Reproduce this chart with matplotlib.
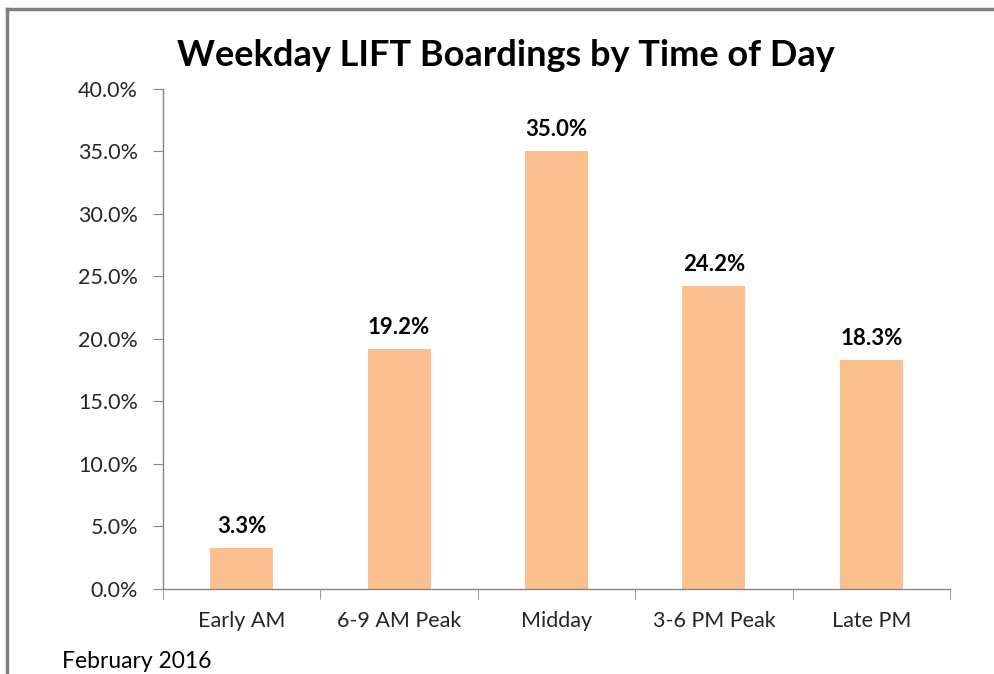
import matplotlib
matplotlib.use("Agg")
import matplotlib.pyplot as plt
from matplotlib.lines import Line2D
from matplotlib.ticker import FuncFormatter, MultipleLocator

categories = ["Early AM", "6-9 AM Peak", "Midday", "3-6 PM Peak", "Late PM"]
shares = [3.3, 19.2, 35.0, 24.2, 18.3]

plt.rcParams["font.family"] = ["Lato", "DejaVu Sans"]

fig = plt.figure(figsize=(9.95, 6.74), dpi=100)
ax = fig.add_axes([0.1638, 0.1261, 0.791, 0.742])

x = list(range(len(categories)))
ax.bar(x, shares, width=0.4, color="#FAC090")
for xi, v in zip(x, shares):
    ax.annotate(f"{v:.1f}%", (xi, v), xytext=(0, 8), textcoords="offset points",
                ha="center", va="bottom", fontsize=16, fontweight="bold", color="black")

ax.set_xlim(-0.5, len(categories) - 0.5)
ax.set_ylim(0, 40)
ax.yaxis.set_major_locator(MultipleLocator(5))
ax.yaxis.set_major_formatter(FuncFormatter(lambda v, _: f"{v:.1f}%"))
ax.set_xticks(x)
ax.set_xticklabels(categories)
ax.set_xticks([i - 0.5 for i in range(len(categories) + 1)], minor=True)
ax.tick_params(axis="x", which="major", length=0, pad=16, labelsize=15.5, labelcolor="#262626")
ax.tick_params(axis="x", which="minor", length=7, color="#868686", direction="out")
ax.tick_params(axis="y", length=7, color="#868686", labelsize=15.5, labelcolor="#262626", pad=11)

for s in ["top", "right"]:
    ax.spines[s].set_visible(False)
for s in ["left", "bottom"]:
    ax.spines[s].set_color("#868686")
    ax.spines[s].set_linewidth(1)

fig.text(0.508, 0.917, "Weekday LIFT Boardings by Time of Day", ha="center", va="center",
         fontsize=26, fontweight="bold", color="black")
fig.text(0.062, 0.018, "February 2016", ha="left", va="center", fontsize=16.5, color="black")

# outer chart border (top and left edges visible)
fig.add_artist(Line2D([0.007, 0.007], [0, 0.987], transform=fig.transFigure, color="#808080", lw=2.5))
fig.add_artist(Line2D([0.007, 1.0], [0.987, 0.987], transform=fig.transFigure, color="#808080", lw=2.5))

fig.savefig("out.png", dpi=100)
